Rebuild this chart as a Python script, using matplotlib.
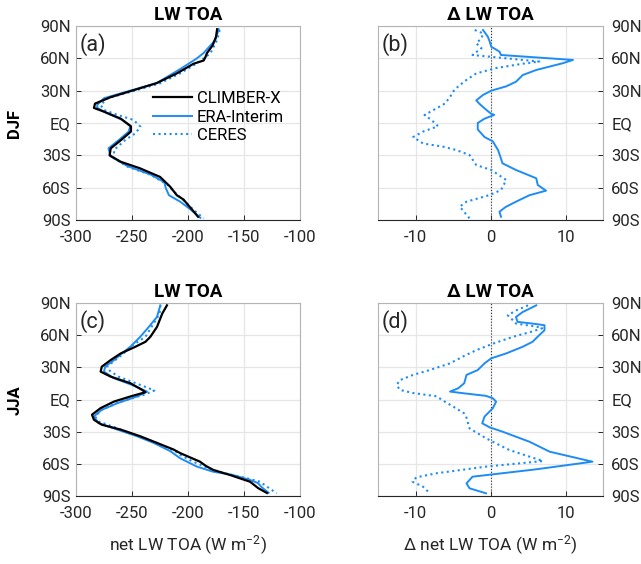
import matplotlib
matplotlib.use("Agg")
import matplotlib.pyplot as plt
import numpy as np

plt.rcParams['font.family'] = ['Roboto', 'DejaVu Sans']
plt.rcParams['mathtext.default'] = 'regular'
plt.rcParams['axes.unicode_minus'] = False

BLUE = '#1E8CF5'

# ---------------- data ----------------
lat_ticks = [-90, -60, -30, 0, 30, 60, 90]
lat_labels = ['90S', '60S', '30S', 'EQ', '30N', '60N', '90N']

# (a) DJF absolute
a_clim_lat = [87, 80, 72, 65, 61, 58, 55, 46, 37, 30, 24, 18, 14, 10.5, 4, -3, -8, -16, -23.5, -30, -36, -42, -50, -59, -67, -71, -76, -82, -87]
a_clim_val = [-174, -175, -178, -183, -184.5, -186, -195, -210, -228, -250, -269, -283, -284, -275, -260, -251, -251, -260, -269, -270, -260, -243, -225, -216, -210, -204, -200, -195, -191]
a_era_lat = [87, 77, 65, 60, 50, 37, 30, 23, 17, 14, 9, 3, -3, -8, -16, -23.5, -31, -40, -48, -55, -60, -67, -73, -80, -88]
a_era_val = [-172.6, -175.6, -186, -192, -207, -228, -251.5, -275, -281, -281, -272, -259, -251.5, -253, -262, -271, -269, -254, -233, -221, -220, -217, -207, -198, -189]
a_cer_lat = [86.3, 77, 64.6, 55.4, 46.1, 36.8, 29.7, 22.9, 16.7, 12.1, 7.5, 2.8, -3.4, -9.6, -15.8, -25, -32.8, -40.5, -48.2, -57.5, -65.3, -74.5, -80.7, -88.4]
a_cer_val = [-171.7, -174, -180, -192, -207, -225, -248.5, -272, -278, -275, -263, -248.5, -242.5, -247, -256, -266, -266, -254, -233, -218, -211, -201, -195, -186]

# (b) DJF differences
b_era_lat = [86.3, 80, 75.4, 70.8, 66.2, 63.1, 58.5, 55.4, 49.2, 44.5, 38.3, 34, 30, 26, 21, 18, 13.6, 9, 7.5, 4, 0, -6, -13, -17, -25, -31, -37.4, -43.6, -51.3, -57.5, -62.8, -67, -73, -78, -82.3, -87]
b_era_val = [-1.0, -0.35, -0.1, 0.1, 1.2, 1.4, 11.0, 9.6, 6.1, 4.3, 3.4, 2.1, 0.1, -1.0, -1.9, -1.5, -0.8, 0.0, 0.5, -0.8, -1.7, -1.7, -0.8, 0.3, 1.0, 1.3, 1.6, 3.4, 6.1, 6.3, 7.4, 5.2, 3.4, 2.0, 1.2, 1.4]
b_cer_lat = [86.3, 83.2, 78.6, 74, 69.4, 63.1, 57, 55, 51, 46, 40, 34, 29, 24, 18, 13.6, 7.4, 3, -3, -8, -13, -19, -22, -25, -29.7, -39, -43.6, -52.9, -62.2, -66.8, -73, -77.6, -88.4]
b_cer_val = [-2.1, -1.0, -1.2, -1.9, -1.2, -2.4, 6.5, 4.3, 0.75, -1.9, -3.2, -4.3, -5.0, -5.4, -6.1, -7.2, -8.8, -7.9, -7.0, -9.0, -10.3, -9.0, -6.3, -4.6, -2.8, -1.9, 0.1, 2.1, 1.4, -0.1, -3.2, -4.1, -2.8]

# (c) JJA absolute
c_clim_lat = [87.8, 80.1, 67.7, 58.5, 53.8, 49.2, 43, 36.8, 30.6, 26, 21.3, 15.2, 9, 6.8, 2.8, -1.9, -8, -14.2, -18.9, -23.5, -28.1, -34.3, -40.5, -46.7, -50, -58, -62, -65.7, -70.4, -76.7, -82.7, -87.2]
c_clim_val = [-218.8, -223, -227.7, -233.6, -238, -247, -260, -269, -277, -278, -269, -251.5, -241, -238, -251.5, -266, -278, -285.7, -284, -277, -260, -242.6, -227.7, -212.8, -207, -189.3, -184, -177.4, -162.5, -144.6, -137.3, -129.5]
c_era_lat = [87.8, 77, 67.7, 58.5, 49.2, 43, 36.8, 30.6, 26, 19.8, 13.6, 7.4, 2.8, -3.4, -9.6, -15.8, -22, -28.1, -34.3, -40.5, -48.2, -54.8, -62.6, -67.3, -70.4, -75, -78, -82, -87]
c_era_val = [-224.7, -227.7, -235, -242.6, -251.5, -259, -266, -274, -275, -266, -250, -236.6, -245.5, -263, -277, -284, -280, -263, -245.5, -230.6, -215.8, -207, -192, -177.7, -160, -144.6, -137.5, -134, -128]
c_cer_lat = [87.8, 80.1, 70.8, 58.5, 49.2, 43, 36.8, 30.6, 27.5, 21.3, 13.6, 8.4, 4.3, -1.9, -9.6, -15.8, -20.4, -26.6, -34.3, -40.5, -48.2, -51.7, -58, -65.7, -68.3, -73.5, -76.7, -81.3, -87.5]
c_cer_val = [-224.7, -225.3, -230.7, -238, -251.5, -257.4, -264.9, -272.3, -270.8, -262, -242.6, -230, -239.6, -260, -277, -283, -280, -263.7, -244, -227.7, -211.3, -207, -195.5, -177.7, -168.8, -147.3, -135.7, -129.5, -120.8]

# (d) JJA differences
d_era_lat = [87.8, 81.6, 77, 72.4, 70.8, 69.3, 64.6, 60, 53.8, 49.2, 43, 38.4, 33.7, 27.5, 22.9, 15.2, 10.5, 7.4, 5.9, 3.4, 1.2, -2, -8.2, -16, -22.2, -26, -30, -39.4, -48.7, -58, -65.1, -72, -78.2, -82.8, -87.5]
d_era_val = [6.1, 4.3, 3.4, 3.6, 5.6, 7.2, 7.2, 6.5, 5.6, 4.3, 2.1, 0.1, -0.8, -1.7, -3.2, -3.5, -4.3, -5.4, -3.7, -0.6, 0.3, 0.75, 0.3, -0.8, -1.1, -0.1, 1.6, 5.2, 7.9, 13.6, 6.1, -2.4, -3.2, -2.8, -0.6]
d_cer_lat = [87.8, 83, 78.5, 73.8, 70.8, 68, 66.5, 63.5, 58.5, 52, 46, 40, 33.7, 27.5, 23, 18, 13.6, 9, 6, 3, -2, -6.5, -13, -17, -22, -26.9, -36.2, -47.1, -57.4, -62.6, -68.8, -72.6, -76.7, -81.3, -87.5]
d_cer_val = [5.0, 3.4, 2.3, 3.0, 3.4, 6.1, 6.9, 5.6, 3.0, 0.3, -1.9, -3.7, -5.4, -8.1, -10.3, -12.1, -12.5, -12.1, -10.3, -7.2, -6.1, -5.0, -3.5, -3.2, -3.0, -2.8, -0.6, 2.5, 7.0, -0.6, -7.2, -9.9, -10.4, -9.0, -8.1]

abs_ticks = [-300, -250, -200, -150, -100]
dif_ticks = [-10, 0, 10]

# ---------------- figure ----------------
fig = plt.figure(figsize=(6.41, 5.64), dpi=100)
W, H = 641, 564

def add_ax(x0, y0, x1, y1):
    return fig.add_axes([x0 / W, 1 - y1 / H, (x1 - x0) / W, (y1 - y0) / H])

ax_a = add_ax(76, 26, 300, 220)
ax_b = add_ax(378, 26, 603, 220)
ax_c = add_ax(76, 303, 300, 496)
ax_d = add_ax(378, 303, 603, 496)

def style(ax, right=False):
    ax.set_ylim(-90, 90)
    ax.set_yticks(lat_ticks)
    ax.set_yticklabels(lat_labels)
    ax.grid(True, color='#e6e6e6', lw=0.9)
    ax.set_axisbelow(True)
    for s in ['top', 'left', 'right']:
        ax.spines[s].set_color('#b4b4b4')
        ax.spines[s].set_linewidth(0.8)
    ax.spines['bottom'].set_color('#262626')
    ax.spines['bottom'].set_linewidth(0.8)
    ax.tick_params(axis='both', direction='in', length=3.5, width=0.7,
                   colors='#262626', labelsize=12, labelcolor='#262626')
    ax.tick_params(axis='x', pad=7)
    ax.tick_params(axis='y', pad=4)
    if right:
        ax.yaxis.tick_right()
        ax.tick_params(axis='y', pad=6)

for ax in (ax_a, ax_c):
    style(ax)
    ax.set_xlim(-300, -100)
    ax.set_xticks(abs_ticks)
for ax in (ax_b, ax_d):
    style(ax, right=True)
    ax.set_xlim(-15, 15)
    ax.set_xticks(dif_ticks)
    ax.axvline(0, color='#333333', lw=0.8, ls=':', zorder=1)

# panel (a)
ax_a.plot(a_clim_val, a_clim_lat, color='black', lw=1.6, label='CLIMBER-X', zorder=4)
ax_a.plot(a_era_val, a_era_lat, color=BLUE, lw=1.4, label='ERA-Interim', zorder=3)
ax_a.plot(a_cer_val, a_cer_lat, color=BLUE, lw=1.5, ls=':', label='CERES', zorder=3)
ax_a.legend(loc='upper left', bbox_to_anchor=(0.345, 0.665), frameon=False,
            fontsize=12, handlelength=2.3, handletextpad=0.3, labelspacing=0.22,
            borderpad=0, borderaxespad=0)

# panel (b)
ax_b.plot(b_era_val, b_era_lat, color=BLUE, lw=1.4, zorder=3)
ax_b.plot(b_cer_val, b_cer_lat, color=BLUE, lw=1.5, ls=':', zorder=3)

# panel (c)
ax_c.plot(c_clim_val, c_clim_lat, color='black', lw=1.6, zorder=4)
ax_c.plot(c_era_val, c_era_lat, color=BLUE, lw=1.4, zorder=3)
ax_c.plot(c_cer_val, c_cer_lat, color=BLUE, lw=1.5, ls=':', zorder=3)

# panel (d)
ax_d.plot(d_era_val, d_era_lat, color=BLUE, lw=1.4, zorder=3)
ax_d.plot(d_cer_val, d_cer_lat, color=BLUE, lw=1.5, ls=':', zorder=3)

for ax, t in [(ax_a, 'LW TOA'), (ax_b, 'Δ LW TOA'), (ax_c, 'LW TOA'), (ax_d, 'Δ LW TOA')]:
    ax.set_title(t, fontsize=13.5, fontweight='bold', pad=4)

for ax, t in [(ax_a, '(a)'), (ax_b, '(b)'), (ax_c, '(c)'), (ax_d, '(d)')]:
    ax.text(0.018, 0.905, t, transform=ax.transAxes, fontsize=15.5, va='center', ha='left', color='#262626')

ax_c.set_xlabel('net LW TOA (W m$^{-2}$)', fontsize=12.5, labelpad=9, color='#262626')
ax_d.set_xlabel('Δ net LW TOA (W m$^{-2}$)', fontsize=12.5, labelpad=9, color='#262626')

fig.text(15 / W, 1 - 123 / H, 'DJF', rotation=90, fontsize=12, fontweight='bold', ha='center', va='center')
fig.text(15 / W, 1 - 400 / H, 'JJA', rotation=90, fontsize=12, fontweight='bold', ha='center', va='center')

fig.savefig('out.png', dpi=100)
